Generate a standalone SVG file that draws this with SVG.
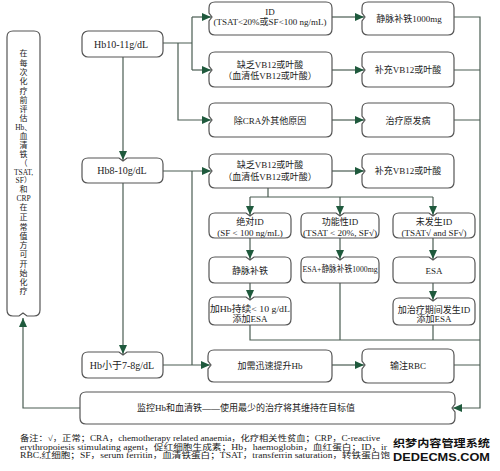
<svg xmlns="http://www.w3.org/2000/svg" width="500" height="471" viewBox="0 0 500 471">
<style>
.bx{fill:#fff;stroke:#555;stroke-width:1.2}
.c{fill:none;stroke:#4a5d52;stroke-width:1.2}
.t{font-family:"Liberation Serif","Noto Sans CJK SC",serif;font-size:9px;fill:#222;text-anchor:middle}
.v{font-family:"Liberation Serif","Noto Sans CJK SC",serif;font-size:8px;fill:#222;text-anchor:middle}
.n{font-family:"Liberation Serif","Noto Sans CJK SC",serif;font-size:8px;fill:#222}
.w{font-family:"Noto Sans CJK SC","Liberation Sans",sans-serif;font-weight:bold;fill:#111;stroke:#fff;stroke-width:2;paint-order:stroke}
.w2{font-family:"Liberation Sans",sans-serif;font-weight:bold;fill:#111;stroke:#fff;stroke-width:2;paint-order:stroke}
</style>
<defs>
<marker id="ah" markerUnits="userSpaceOnUse" markerWidth="9" markerHeight="8" refX="9" refY="4" orient="auto">
<path d="M0,0 L9,4 L0,8 Z" fill="#1f5a3d"/>
</marker>
</defs>
<rect width="500" height="471" fill="#fff"/>
<g id="connectors" class="c">
<path d="M163,43 H192 M192,17 V70"/>
<path d="M192,17 H211" marker-end="url(#ah)"/>
<path d="M192,70 H211" marker-end="url(#ah)"/>
<path d="M178,43 V120 H211" marker-end="url(#ah)"/>
<path d="M123,57 V160" marker-end="url(#ah)"/>
<path d="M163,171 H211" marker-end="url(#ah)"/>
<path d="M192,171 V365"/>
<path d="M123,183 V354" marker-end="url(#ah)"/>
<path d="M163,365 H210" marker-end="url(#ah)"/>
<path d="M332,17 H364" marker-end="url(#ah)"/>
<path d="M332,70 H364" marker-end="url(#ah)"/>
<path d="M332,120 H364" marker-end="url(#ah)"/>
<path d="M332,171 H364" marker-end="url(#ah)"/>
<path d="M332,365 H364" marker-end="url(#ah)"/>
<path d="M454,17 H480 V408 H453" marker-end="url(#ah)"/>
<path d="M454,70 H480 M454,120 H480 M454,365 H480"/>
<path d="M268,188 V197 M250,197 H433"/>
<path d="M250,197 V215" marker-end="url(#ah)"/>
<path d="M340,197 V215" marker-end="url(#ah)"/>
<path d="M433,197 V215" marker-end="url(#ah)"/>
<path d="M250,238 V259" marker-end="url(#ah)"/>
<path d="M340,238 V259" marker-end="url(#ah)"/>
<path d="M433,238 V259" marker-end="url(#ah)"/>
<path d="M250,283 V299" marker-end="url(#ah)"/>
<path d="M433,283 V300" marker-end="url(#ah)"/>
<path d="M250,325 V340 H480 M340,283 V340 M433,325 V340"/>
<path d="M80,408 H23 V318" marker-end="url(#ah)"/>
</g>
<g id="start">
<path class="bx" d="M13,31 H34 Q40,31 40,37 V310 Q40,316 34,316 H27 L23,313 L19,316 H13 Q7,316 7,310 V37 Q7,31 13,31 Z"/>
<text class="v" x="23.5" y="56">在</text>
<text class="v" x="23.5" y="65.5">每</text>
<text class="v" x="23.5" y="75">次</text>
<text class="v" x="23.5" y="84">化</text>
<text class="v" x="23.5" y="93.5">疗</text>
<text class="v" x="23.5" y="103">前</text>
<text class="v" x="23.5" y="112">评</text>
<text class="v" x="23.5" y="121">估</text>
<text class="v" x="23.5" y="130" style="font-size:7.5px">Hb、</text>
<text class="v" x="23.5" y="139">血</text>
<text class="v" x="23.5" y="148">清</text>
<text class="v" x="23.5" y="157">铁</text>
<text class="v" x="23.5" y="166">（</text>
<text class="v" x="23.5" y="174.5" style="font-size:7.5px">TSAT,</text>
<text class="v" x="23.5" y="183" style="font-size:7.5px">SF）</text>
<text class="v" x="23.5" y="192">和</text>
<text class="v" x="23.5" y="200.5" style="font-size:7.5px">CRP</text>
<text class="v" x="23.5" y="210">在</text>
<text class="v" x="23.5" y="220">正</text>
<text class="v" x="23.5" y="229.5">常</text>
<text class="v" x="23.5" y="239">值</text>
<text class="v" x="23.5" y="248">方</text>
<text class="v" x="23.5" y="257">可</text>
<text class="v" x="23.5" y="266.5">开</text>
<text class="v" x="23.5" y="276">始</text>
<text class="v" x="23.5" y="285">化</text>
<text class="v" x="23.5" y="294">疗</text>
</g>
<g id="hb10">
<rect class="bx" x="82" y="31" width="81" height="26" rx="6"/>
<text class="t" x="121" y="47.5" style="font-size:10px">Hb10-11g/dL</text>
</g>
<g id="hb8">
<path class="bx" d="M88,158 H119 L123,161 L127,158 H157 Q163,158 163,164 V177 Q163,183 157,183 H88 Q82,183 82,177 V164 Q82,158 88,158 Z"/>
<text class="t" x="122" y="174" style="font-size:10px">Hb8-10g/dL</text>
</g>
<g id="hb7">
<path class="bx" d="M88,352 H119 L123,355 L127,352 H157 Q163,352 163,358 V372 Q163,378 157,378 H88 Q82,378 82,372 V358 Q82,352 88,352 Z"/>
<text class="t" x="122" y="368.5" style="font-size:10px">Hb小于7-8g/dL</text>
</g>
<g id="id">
<path class="bx" d="M215,2 H326 Q332,2 332,8 V29 Q332,35 326,35 H215 Q209,35 209,29 V21 L212,17 L209,13 V8 Q209,2 215,2 Z"/>
<text class="t" x="270" y="15">ID</text>
<text class="t" x="270" y="25">(TSAT&lt;20%或SF&lt;100 ng/mL)</text>
</g>
<g id="iv1000">
<path class="bx" d="M368,2 H448 Q454,2 454,8 V29 Q454,35 448,35 H368 Q362,35 362,29 V21 L365,17 L362,13 V8 Q362,2 368,2 Z"/>
<text class="t" x="409" y="21.5">静脉补铁1000mg</text>
</g>
<g id="vb1">
<path class="bx" d="M215,52 H326 Q332,52 332,58 V81 Q332,87 326,87 H215 Q209,87 209,81 V74 L212,70 L209,66 V58 Q209,52 215,52 Z"/>
<text class="t" x="270" y="68">缺乏VB12或叶酸</text>
<text class="t" x="270" y="79">（血清低VB12或叶酸）</text>
</g>
<g id="vbfix1">
<path class="bx" d="M368,52 H448 Q454,52 454,58 V81 Q454,87 448,87 H368 Q362,87 362,81 V74 L365,70 L362,66 V58 Q362,52 368,52 Z"/>
<text class="t" x="408" y="72.5">补充VB12或叶酸</text>
</g>
<g id="other">
<path class="bx" d="M215,103 H326 Q332,103 332,109 V131 Q332,137 326,137 H215 Q209,137 209,131 V124 L212,120 L209,116 V109 Q209,103 215,103 Z"/>
<text class="t" x="270" y="123.5">除CRA外其他原因</text>
</g>
<g id="primary">
<path class="bx" d="M368,103 H448 Q454,103 454,109 V131 Q454,137 448,137 H368 Q362,137 362,131 V124 L365,120 L362,116 V109 Q362,103 368,103 Z"/>
<text class="t" x="408" y="123.5">治疗原发病</text>
</g>
<g id="vb2">
<path class="bx" d="M215,154 H326 Q332,154 332,160 V182 Q332,188 326,188 H215 Q209,188 209,182 V175 L212,171 L209,167 V160 Q209,154 215,154 Z"/>
<text class="t" x="270" y="168">缺乏VB12或叶酸</text>
<text class="t" x="270" y="180">（血清低VB12或叶酸）</text>
</g>
<g id="vbfix2">
<path class="bx" d="M368,154 H448 Q454,154 454,160 V182 Q454,188 448,188 H368 Q362,188 362,182 V175 L365,171 L362,167 V160 Q362,154 368,154 Z"/>
<text class="t" x="408" y="174">补充VB12或叶酸</text>
</g>
<g id="absid">
<path class="bx" d="M215,213 H246 L250,216 L254,213 H285 Q291,213 291,219 V232 Q291,238 285,238 H215 Q209,238 209,232 V219 Q209,213 215,213 Z"/>
<text class="t" x="250" y="225">绝对ID</text>
<text class="t" x="250" y="235.5">(SF &lt; 100 ng/mL)</text>
</g>
<g id="funcid">
<path class="bx" d="M307,213 H336 L340,216 L344,213 H373 Q379,213 379,219 V232 Q379,238 373,238 H307 Q301,238 301,232 V219 Q301,213 307,213 Z"/>
<text class="t" x="340" y="225">功能性ID</text>
<text class="t" x="340" y="235.5" textLength="74" lengthAdjust="spacingAndGlyphs">(TSAT &lt; 20%, SF√)</text>
</g>
<g id="noid">
<path class="bx" d="M399,213 H429 L433,216 L437,213 H469 Q475,213 475,219 V232 Q475,238 469,238 H399 Q393,238 393,232 V219 Q393,213 399,213 Z"/>
<text class="t" x="434" y="225">未发生ID</text>
<text class="t" x="434" y="235.5">(TSAT√ and SF√)</text>
</g>
<g id="iviron">
<path class="bx" d="M215,257 H246 L250,260 L254,257 H285 Q291,257 291,263 V277 Q291,283 285,283 H215 Q209,283 209,277 V263 Q209,257 215,257 Z"/>
<text class="t" x="250" y="273.5">静脉补铁</text>
</g>
<g id="esaiv">
<path class="bx" d="M307,257 H336 L340,260 L344,257 H373 Q379,257 379,263 V277 Q379,283 373,283 H307 Q301,283 301,277 V263 Q301,257 307,257 Z"/>
<text class="t" x="340" y="272" textLength="75" lengthAdjust="spacingAndGlyphs">ESA+静脉补铁1000mg</text>
</g>
<g id="esa">
<path class="bx" d="M399,257 H429 L433,260 L437,257 H469 Q475,257 475,263 V277 Q475,283 469,283 H399 Q393,283 393,277 V263 Q393,257 399,257 Z"/>
<text class="t" x="434" y="273.5">ESA</text>
</g>
<g id="addesa1">
<path class="bx" d="M215,297 H246 L250,300 L254,297 H285 Q291,297 291,303 V319 Q291,325 285,325 H215 Q209,325 209,319 V303 Q209,297 215,297 Z"/>
<text class="t" x="250" y="312" textLength="80" lengthAdjust="spacingAndGlyphs">加Hb持续&lt; 10 g/dL</text>
<text class="t" x="250" y="322">添加ESA</text>
</g>
<g id="addesa2">
<path class="bx" d="M399,298 H429 L433,301 L437,298 H469 Q475,298 475,304 V319 Q475,325 469,325 H399 Q393,325 393,319 V304 Q393,298 399,298 Z"/>
<text class="t" x="434" y="312.5">加治疗期间发生ID</text>
<text class="t" x="434" y="322">添加ESA</text>
</g>
<g id="raise">
<path class="bx" d="M214,350 H326 Q332,350 332,356 V376 Q332,382 326,382 H214 Q208,382 208,376 V369 L211,365 L208,361 V356 Q208,350 214,350 Z"/>
<text class="t" x="270" y="368.5">加需迅速提升Hb</text>
</g>
<g id="rbc">
<path class="bx" d="M368,349 H448 Q454,349 454,355 V377 Q454,383 448,383 H368 Q362,383 362,377 V369 L365,365 L362,361 V355 Q362,349 368,349 Z"/>
<text class="t" x="408" y="368.5">输注RBC</text>
</g>
<g id="monitor">
<path class="bx" d="M86,392 H449 Q455,392 455,398 V404 L452,408 L455,412 V418 Q455,424 449,424 H86 Q80,424 80,418 V398 Q80,392 86,392 Z"/>
<text class="t" x="246" y="411">监控Hb和血清铁——使用最少的治疗将其维持在目标值</text>
</g>
<g id="notes">
<text class="n" x="20" y="441" textLength="360" lengthAdjust="spacingAndGlyphs">备注：√，正常；CRA，chemotherapy related anaemia，化疗相关性贫血；CRP，C-reactive</text>
<text class="n" x="20" y="449.5" textLength="367" lengthAdjust="spacingAndGlyphs">erythropoiesis stimulating agent，促红细胞生成素；Hb，haemoglobin，血红蛋白；ID，ir</text>
<text class="n" x="20" y="458" textLength="370" lengthAdjust="spacingAndGlyphs">RBC,红细胞；SF，serum ferritin，血清铁蛋白；TSAT，transferrin saturation，转铁蛋白饱</text>
<text class="w" x="393" y="446.5" font-size="10.5" textLength="97" lengthAdjust="spacingAndGlyphs">织梦内容管理系统</text>
<text class="w2" x="393" y="461" font-size="10" textLength="97" lengthAdjust="spacingAndGlyphs">DEDECMS.COM</text>
</g>
</svg>
